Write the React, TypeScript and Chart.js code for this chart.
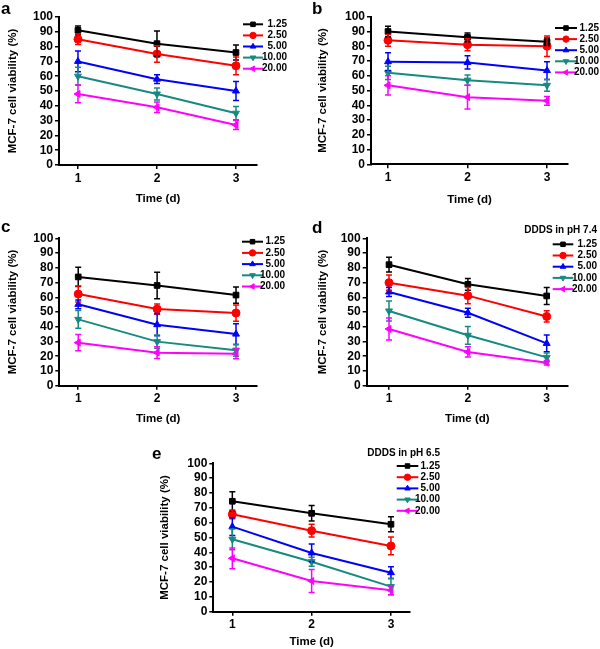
import React, { useEffect, useRef } from 'react';
import { Chart, registerables } from 'chart.js';
import { drawPoint } from 'chart.js/helpers';

Chart.register(...registerables);

// ---------- data ----------
const days = [1, 2, 3];
const doseLabels = ['1.25', '2.50', '5.00', '10.00', '20.00'];
const doseColors = ['#000000', '#ff0000', '#0000ff', '#168a80', '#ff00ff'];
const doseMarkers = ['rect', 'circle', 'triangle', 'triangle', 'triangle'];
const doseRotations = [0, 0, 0, 180, 270];
const yMin = 0;
const yMax = 100;
const yStep = 10;

const meansA = [
  [91, 82, 76],
  [85, 75, 67],
  [70, 58, 50],
  [60, 48, 35],
  [48, 39, 27],
];
const errA = [
  [3, 8.5, 5],
  [3.5, 5.5, 6],
  [7, 3, 6.5],
  [6, 4, 4.5],
  [6, 3.5, 3],
];

const meansB = [
  [90, 86, 83],
  [84, 81, 80],
  [69.5, 69, 63.5],
  [62, 57, 53.5],
  [53.5, 45.5, 43],
];
const errB = [
  [3.5, 3, 2.5],
  [4, 4, 7],
  [6, 4.5, 6],
  [4.5, 3.5, 4],
  [6.5, 8, 3],
];

const meansC = [
  [73.8, 68, 61.5],
  [62.2, 52, 49.3],
  [55.2, 41.4, 35],
  [45, 29.9, 24],
  [29.2, 22.4, 21.7],
];
const errC = [
  [6.5, 9, 5.5],
  [5.5, 3.5, 5.5],
  [3, 7.5, 7],
  [6, 4.5, 4],
  [5.5, 4, 3.5],
];

const meansD = [
  [82.1, 68.8, 60.9],
  [69.9, 61.1, 47],
  [63.6, 49.5, 28.7],
  [50.7, 34.2, 19.2],
  [38.5, 22.9, 15.6],
];
const errD = [
  [5, 4, 5.8],
  [5.2, 5.5, 3.8],
  [3, 3, 5.7],
  [6.8, 6, 3],
  [7.5, 3.5, 1.5],
];

const meansE = [
  [74.4, 66.3, 58.9],
  [65.6, 54.6, 44.3],
  [57.3, 39.6, 26.3],
  [48.8, 33.7, 16.9],
  [36, 20.7, 14.4],
];
const errE = [
  [6.5, 5.2, 5],
  [3, 4.3, 6],
  [6, 6, 4],
  [7, 3, 5.5],
  [7, 7.8, 3],
];

// ---------- layout (positions only) ----------
const FONT = "'Liberation Sans', Arial, Helvetica, sans-serif";

type Panel = {
  letter: string;
  legendTitle: string | null;
  means: number[][];
  errs: number[][];
  left: number; top: number; w: number; h: number;
  area: { left: number; top: number; right: number; bottom: number };
  xMin: number; xMax: number;
  yTitleX: number; xTitleY: number;
  letterX: number; letterY: number;
  legLine: [number, number]; legTextRight: number; legRow0: number; legStep: number;
  legTitleY: number;
};

const panels: Panel[] = [
  {
    letter: 'a', legendTitle: null, means: meansA, errs: errA,
    left: 0, top: 0, w: 300, h: 215,
    area: { left: 59, top: 17, right: 257, bottom: 165 },
    xMin: 0.76, xMax: 3.266, yTitleX: 13, xTitleY: 199,
    letterX: 1, letterY: 14,
    legLine: [243, 263], legTextRight: 287, legRow0: 24.3, legStep: 11.1, legTitleY: 0,
  },
  {
    letter: 'b', legendTitle: null, means: meansB, errs: errB,
    left: 300, top: 0, w: 300, h: 215,
    area: { left: 71, top: 16.7, right: 268, bottom: 164.3 },
    xMin: 0.786, xMax: 3.264, yTitleX: 23, xTitleY: 200,
    letterX: 12, letterY: 14,
    legLine: [255, 277], legTextRight: 299, legRow0: 28, legStep: 11.1, legTitleY: 0,
  },
  {
    letter: 'c', legendTitle: null, means: meansC, errs: errC,
    left: 0, top: 215, w: 300, h: 215,
    area: { left: 59.3, top: 23.3, right: 257, bottom: 170.7 },
    xMin: 0.76, xMax: 3.266, yTitleX: 12.7, xTitleY: 203.5,
    letterX: 1, letterY: 17,
    legLine: [242, 263], legTextRight: 285, legRow0: 26.7, legStep: 11.2, legTitleY: 0,
  },
  {
    letter: 'd', legendTitle: 'DDDS in pH 7.4', means: meansD, errs: errD,
    left: 300, top: 215, w: 300, h: 215,
    area: { left: 66.7, top: 23.3, right: 268, bottom: 170.7 },
    xMin: 0.717, xMax: 3.27, yTitleX: 22.7, xTitleY: 203.5,
    letterX: 12, letterY: 18,
    legLine: [252.7, 273.3], legTextRight: 297, legRow0: 29.3, legStep: 11.2, legTitleY: 15.7,
  },
  {
    letter: 'e', legendTitle: 'DDDS in pH 6.5', means: meansE, errs: errE,
    left: 150, top: 430, w: 300, h: 219,
    area: { left: 63.3, top: 33.3, right: 260, bottom: 181.7 },
    xMin: 0.76, xMax: 3.24, yTitleX: 15, xTitleY: 211.7,
    letterX: 2, letterY: 29,
    legLine: [246.7, 268.3], legTextRight: 290, legRow0: 36, legStep: 11.2, legTitleY: 23.3,
  },
];

// ---------- plugins ----------
const errorBarPlugin = {
  id: 'errorBars',
  afterDatasetsDraw(chart: any) {
    const ctx = chart.ctx;
    const ys = chart.scales.y;
    chart.data.datasets.forEach((ds: any, i: number) => {
      const meta = chart.getDatasetMeta(i);
      meta.data.forEach((el: any, j: number) => {
        const v = ds.data[j].y;
        const e = ds.errors[j];
        const x = el.x;
        const yt = ys.getPixelForValue(v + e);
        const yb = ys.getPixelForValue(v - e);
        ctx.save();
        ctx.strokeStyle = ds.borderColor;
        ctx.lineWidth = 1.5;
        ctx.beginPath();
        ctx.moveTo(x, yt); ctx.lineTo(x, yb);
        ctx.moveTo(x - 3, yt); ctx.lineTo(x + 3, yt);
        ctx.moveTo(x - 3, yb); ctx.lineTo(x + 3, yb);
        ctx.stroke();
        ctx.restore();
      });
    });
  },
};

function makeDecorPlugin(p: Panel) {
  return {
    id: 'decor',
    afterDraw(chart: any) {
      const ctx = chart.ctx;
      ctx.save();
      // panel letter
      ctx.fillStyle = '#000';
      ctx.font = `bold 17px ${FONT}`;
      ctx.textAlign = 'left';
      ctx.textBaseline = 'alphabetic';
      ctx.fillText(p.letter, p.letterX, p.letterY);
      // legend title
      if (p.legendTitle) {
        ctx.font = `bold 10px ${FONT}`;
        ctx.textAlign = 'right';
        ctx.textBaseline = 'middle';
        ctx.fillText(p.legendTitle, p.legTextRight, p.legTitleY);
      }
      // legend rows
      chart.data.datasets.forEach((ds: any, i: number) => {
        const y = p.legRow0 + i * p.legStep;
        ctx.strokeStyle = ds.borderColor;
        ctx.fillStyle = ds.borderColor;
        ctx.lineWidth = 2;
        ctx.beginPath();
        ctx.moveTo(p.legLine[0], y);
        ctx.lineTo(p.legLine[1], y);
        ctx.stroke();
        const mid = (p.legLine[0] + p.legLine[1]) / 2;
        ctx.lineWidth = 1;
        drawPoint(ctx, { pointStyle: ds.pointStyle, rotation: ds.pointRotation, radius: 3.2, borderWidth: 1 }, mid, y);
        ctx.fillStyle = '#000';
        ctx.font = `bold 10px ${FONT}`;
        ctx.textAlign = 'right';
        ctx.textBaseline = 'middle';
        ctx.fillText(ds.label, p.legTextRight, y);
      });
      ctx.restore();
    },
  };
}

function PanelChart({ p }: { p: Panel }) {
  const ref = useRef<HTMLCanvasElement | null>(null);
  useEffect(() => {
    if (!ref.current) return;
    const tickFont = { family: FONT, size: 12, weight: 'bold' as const };
    const titleFont = { family: FONT, size: 11.5, weight: 'bold' as const };
    const grid = { drawOnChartArea: false, drawTicks: true, tickLength: 4, color: '#000', lineWidth: 1.5 };
    const border = { display: true, color: '#000', width: 2 };
    const chart = new Chart(ref.current, {
      type: 'line',
      data: {
        datasets: doseLabels.map((lab, i) => ({
          label: lab,
          data: days.map((d, j) => ({ x: d, y: p.means[i][j] })),
          errors: p.errs[i],
          borderColor: doseColors[i],
          backgroundColor: doseColors[i],
          borderWidth: 2,
          pointStyle: doseMarkers[i] as any,
          pointRotation: doseRotations[i],
          pointRadius: 4,
          pointBorderWidth: 1,
          tension: 0,
          fill: false,
        })) as any,
      },
      options: {
        responsive: false,
        animation: false,
        events: [],
        layout: { padding: { left: 0, top: p.area.top, right: p.w - p.area.right, bottom: 0 } },
        plugins: { legend: { display: false }, tooltip: { enabled: false }, title: { display: false } },
        scales: {
          x: {
            type: 'linear',
            min: p.xMin,
            max: p.xMax,
            afterBuildTicks: (s: any) => { s.ticks = days.map((v) => ({ value: v })); },
            afterFit: (s: any) => { s.height = p.h - p.area.bottom; },
            grid, border,
            ticks: { font: tickFont, color: '#000', padding: 2, maxRotation: 0, autoSkip: false },
            title: { display: true, text: 'Time (d)', font: titleFont, color: '#000', padding: { top: 0, bottom: p.h - 6.9 - p.xTitleY } },
          },
          y: {
            min: yMin,
            max: yMax,
            afterFit: (s: any) => { s.width = p.area.left; },
            grid, border,
            ticks: { stepSize: yStep, font: tickFont, color: '#000', padding: 2, autoSkip: false },
            title: { display: true, text: 'MCF-7 cell viability (%)', font: titleFont, color: '#000', padding: { top: p.yTitleX - 6.9, bottom: 0 } },
          },
        },
      } as any,
      plugins: [errorBarPlugin, makeDecorPlugin(p)],
    });
    return () => chart.destroy();
  }, [p]);
  return (
    <canvas
      ref={ref}
      width={p.w}
      height={p.h}
      style={{ position: 'absolute', left: p.left, top: p.top, width: p.w, height: p.h }}
    />
  );
}

export default function App() {
  return (
    <div style={{ position: 'absolute', left: 0, top: 0, width: 600, height: 649, background: '#fff', overflow: 'hidden' }}>
      {panels.map((p) => (
        <PanelChart key={p.letter} p={p} />
      ))}
    </div>
  );
}
